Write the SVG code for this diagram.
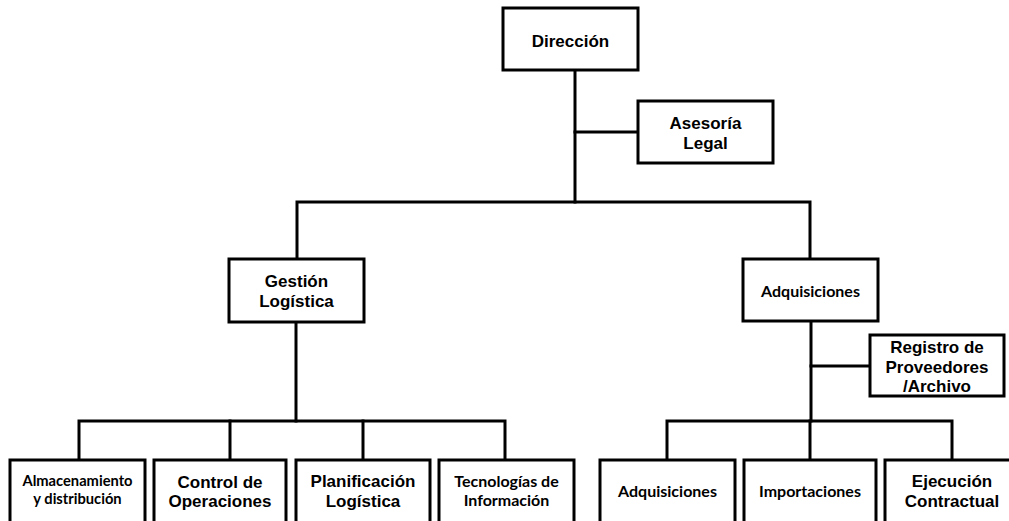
<svg xmlns="http://www.w3.org/2000/svg" width="1009" height="521" viewBox="0 0 1009 521">
  <style>
    .box { fill: #fff; stroke: #000; stroke-width: 3; }
    .wire { fill: none; stroke: #000; stroke-width: 3; stroke-linecap: square; }
    .a { font-family: "Liberation Sans", Arial, sans-serif; font-weight: bold; font-size: 17px; fill: #000; text-anchor: middle; }
    .c { font-family: Lato, "Open Sans", sans-serif; font-weight: bold; font-size: 16px; fill: #000; text-anchor: middle; }
    .cs { font-size: 14.7px; }
  </style>
  <rect width="1009" height="521" fill="#fff"/>

  <g id="connectors">
    <!-- Dirección trunk -->
    <path class="wire" d="M575 70 V202"/>
    <path class="wire" d="M575 132 H638"/>
    <path class="wire" d="M297 258 V202 H810 V258"/>
    <!-- Gestión Logística branch -->
    <path class="wire" d="M296 322 V421"/>
    <path class="wire" d="M79 459 V421 H505 V459"/>
    <path class="wire" d="M230 421 V459"/>
    <path class="wire" d="M363 421 V459"/>
    <!-- Adquisiciones branch -->
    <path class="wire" d="M811 321 V421"/>
    <path class="wire" d="M811 366 H870"/>
    <path class="wire" d="M667 459 V421 H952 V459"/>
    <path class="wire" d="M810 421 V459"/>
  </g>

  <g id="direccion">
    <rect class="box" x="503" y="8" width="135" height="62"/>
    <text class="a" x="570.5" y="47">Dirección</text>
  </g>

  <g id="asesoria-legal">
    <rect class="box" x="638" y="101" width="135" height="62"/>
    <text class="a" x="705.5" y="129">Asesoría</text>
    <text class="a" x="705.5" y="149">Legal</text>
  </g>

  <g id="gestion-logistica">
    <rect class="box" x="229" y="259" width="135" height="63"/>
    <text class="a" x="296.5" y="287">Gestión</text>
    <text class="a" x="296.5" y="307">Logística</text>
  </g>

  <g id="adquisiciones">
    <rect class="box" x="743" y="259" width="135" height="62"/>
    <text class="c" x="810.5" y="297">Adquisiciones</text>
  </g>

  <g id="registro-proveedores">
    <rect class="box" x="870" y="335" width="134" height="61"/>
    <text class="a" x="937" y="353">Registro de</text>
    <text class="a" x="937" y="373">Proveedores</text>
    <text class="a" x="937" y="392">/Archivo</text>
  </g>

  <g id="almacenamiento">
    <rect class="box" x="10" y="460" width="135" height="70"/>
    <text class="c cs" x="77.5" y="486">Almacenamiento</text>
    <text class="c cs" x="77.5" y="504">y distribución</text>
  </g>

  <g id="control-operaciones">
    <rect class="box" x="154" y="460" width="132" height="70"/>
    <text class="a" x="220" y="488">Control de</text>
    <text class="a" x="220" y="507">Operaciones</text>
  </g>

  <g id="planificacion-logistica">
    <rect class="box" x="296" y="460" width="134" height="70"/>
    <text class="a" x="363" y="487">Planificación</text>
    <text class="a" x="363" y="507">Logística</text>
  </g>

  <g id="tecnologias-informacion">
    <rect class="box" x="439" y="460" width="135" height="70"/>
    <text class="c" x="506.5" y="487">Tecnologías de</text>
    <text class="c" x="506.5" y="506">Información</text>
  </g>

  <g id="adquisiciones-sub">
    <rect class="box" x="600" y="460" width="135" height="70"/>
    <text class="c" x="667.5" y="497">Adquisiciones</text>
  </g>

  <g id="importaciones">
    <rect class="box" x="744" y="460" width="132" height="70"/>
    <text class="c" x="810" y="497">Importaciones</text>
  </g>

  <g id="ejecucion-contractual">
    <rect class="box" x="885" y="460" width="135" height="70"/>
    <text class="a" x="952" y="487">Ejecución</text>
    <text class="a" x="952" y="507">Contractual</text>
  </g>
</svg>
